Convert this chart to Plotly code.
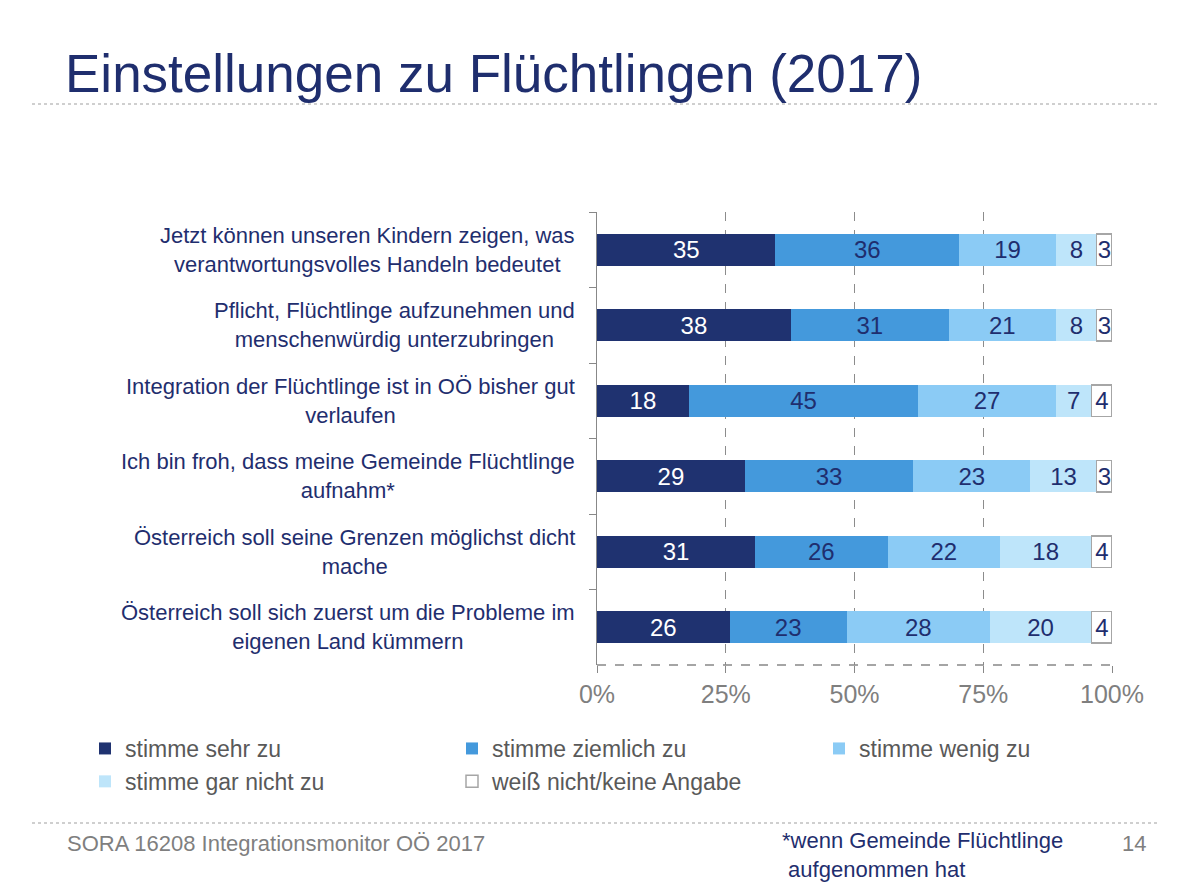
import plotly.graph_objects as go

# ---------------- data ----------------
categories = [
    "Jetzt können unseren Kindern zeigen, was<br>verantwortungsvolles Handeln bedeutet",
    "Pflicht, Flüchtlinge aufzunehmen und<br>menschenwürdig unterzubringen",
    "Integration der Flüchtlinge ist in OÖ bisher gut<br>verlaufen",
    "Ich bin froh, dass meine Gemeinde Flüchtlinge<br>aufnahm*",
    "Österreich soll seine Grenzen möglichst dicht<br>mache",
    "Österreich soll sich zuerst um die Probleme im<br>eigenen Land kümmern",
]
series_names = [
    "stimme sehr zu",
    "stimme ziemlich zu",
    "stimme wenig zu",
    "stimme gar nicht zu",
    "weiß nicht/keine Angabe",
]
sehr_zu = [35, 38, 18, 29, 31, 26]
ziemlich_zu = [36, 31, 45, 33, 26, 23]
wenig_zu = [19, 21, 27, 23, 22, 28]
gar_nicht_zu = [8, 8, 7, 13, 18, 20]
weiss_nicht = [3, 3, 4, 3, 4, 4]
x_tick_values = [0, 25, 50, 75, 100]
x_tick_labels = ["0%", "25%", "50%", "75%", "100%"]

title_text = "Einstellungen zu Flüchtlingen (2017)"
footer_left = "SORA 16208 Integrationsmonitor OÖ 2017"
footnote = "*wenn Gemeinde Flüchtlinge<br> aufgenommen hat"
page_no = "14"

# ---------------- styling ----------------
W, H = 1200, 883
ML, MR, MT, MB = 597, 88, 212, 218
PW, PH = W - ML - MR, H - MT - MB

NAVY = "#1F2E6E"
GREY_TXT = "#7F7F7F"
FONT = "Liberation Sans, Arial, sans-serif"

fill_colors = ["#1F3270", "#4499DC", "#8BCBF5", "#BEE5FA", "#FFFFFF"]
text_colors = ["#FFFFFF", NAVY, NAVY, NAVY, NAVY]
line_colors = ["rgba(0,0,0,0)"] * 4 + ["#A6A6A6"]
line_widths = [0, 0, 0, 0, 1.5]


def px_x(px):
    return (px - ML) / PW


def px_y(py):
    return (H - MB - py) / PH


all_series = [sehr_zu, ziemlich_zu, wenig_zu, gar_nicht_zu, weiss_nicht]
totals = [sum(v) for v in zip(*all_series)]

fig = go.Figure()
for name, vals, fc, tc, lc, lw in zip(series_names, all_series, fill_colors,
                                      text_colors, line_colors, line_widths):
    shares = [v / t * 100 for v, t in zip(vals, totals)]
    fig.add_trace(go.Bar(
        y=categories,
        x=shares,
        name=name,
        orientation="h",
        width=0.42,
        marker=dict(color=fc, line=dict(color=lc, width=lw)),
        text=[str(v) for v in vals],
        textposition="inside",
        insidetextanchor="middle",
        textangle=0,
        constraintext="none",
        textfont=dict(family=FONT, size=24, color=tc),
        hoverinfo="skip",
    ))

annotations = []
for cat in categories:
    annotations.append(dict(
        x=0, xref="paper", xshift=-20, xanchor="right",
        y=cat, yref="y", yanchor="middle",
        text=cat, align="center", showarrow=False,
        font=dict(family=FONT, size=22, color=NAVY),
    ))

annotations += [
    dict(x=px_x(65), xref="paper", xanchor="left",
         y=px_y(843), yref="paper", yanchor="middle",
         text=footer_left, showarrow=False,
         font=dict(family=FONT, size=22, color=GREY_TXT)),
    dict(x=px_x(780), xref="paper", xanchor="left",
         y=px_y(826), yref="paper", yanchor="top",
         text=footnote, align="left", showarrow=False,
         font=dict(family=FONT, size=22, color=NAVY)),
    dict(x=px_x(1120), xref="paper", xanchor="left",
         y=px_y(843), yref="paper", yanchor="middle",
         text=page_no, showarrow=False,
         font=dict(family=FONT, size=22, color=GREY_TXT)),
]

shapes = [
    dict(type="line", xref="paper", yref="paper",
         x0=px_x(32), x1=px_x(1160), y0=px_y(104), y1=px_y(104),
         line=dict(color="#A0A0A0", width=1.2, dash="dot")),
    dict(type="line", xref="paper", yref="paper",
         x0=px_x(32), x1=px_x(1160), y0=px_y(823), y1=px_y(823),
         line=dict(color="#A0A0A0", width=1.2, dash="dot")),
    dict(type="line", xref="paper", yref="paper",
         x0=0, x1=1, y0=0, y1=0,
         line=dict(color="#888888", width=1.3, dash="dash")),
]

fig.update_layout(
    width=W, height=H,
    margin=dict(l=ML, r=MR, t=MT, b=MB),
    paper_bgcolor="white", plot_bgcolor="white",
    barmode="stack",
    bargap=0.58,
    font=dict(family=FONT),
    title=dict(text=title_text, x=65 / W, xanchor="left", xref="container",
               y=1 - 73 / H, yanchor="middle", yref="container",
               font=dict(family=FONT, size=53, color=NAVY)),
    xaxis=dict(
        range=[0, 100],
        tickvals=x_tick_values, ticktext=x_tick_labels,
        ticks="outside", ticklen=7, tickcolor="#888888", tickwidth=1.3,
        showgrid=True, gridcolor="#8C8C8C", griddash="dash", gridwidth=1,
        zeroline=False, showline=False,
        tickfont=dict(family=FONT, size=25, color=GREY_TXT),
        fixedrange=True,
    ),
    yaxis=dict(
        autorange="reversed",
        showticklabels=False,
        ticks="outside", ticklen=7, tickcolor="#888888", tickwidth=1.3,
        tickson="boundaries",
        showline=True, linecolor="#888888", linewidth=1.3,
        showgrid=False, zeroline=False,
        fixedrange=True,
    ),
    legend=dict(
        orientation="h",
        x=px_x(85), xanchor="left",
        y=px_y(727), yanchor="top",
        entrywidth=322, entrywidthmode="pixels",
        traceorder="normal",
        font=dict(family=FONT, size=23, color="#595959"),
        bgcolor="rgba(0,0,0,0)",
        itemclick=False, itemdoubleclick=False,
    ),
    annotations=annotations,
    shapes=shapes,
    showlegend=True,
)

fig.write_html("out.html")
